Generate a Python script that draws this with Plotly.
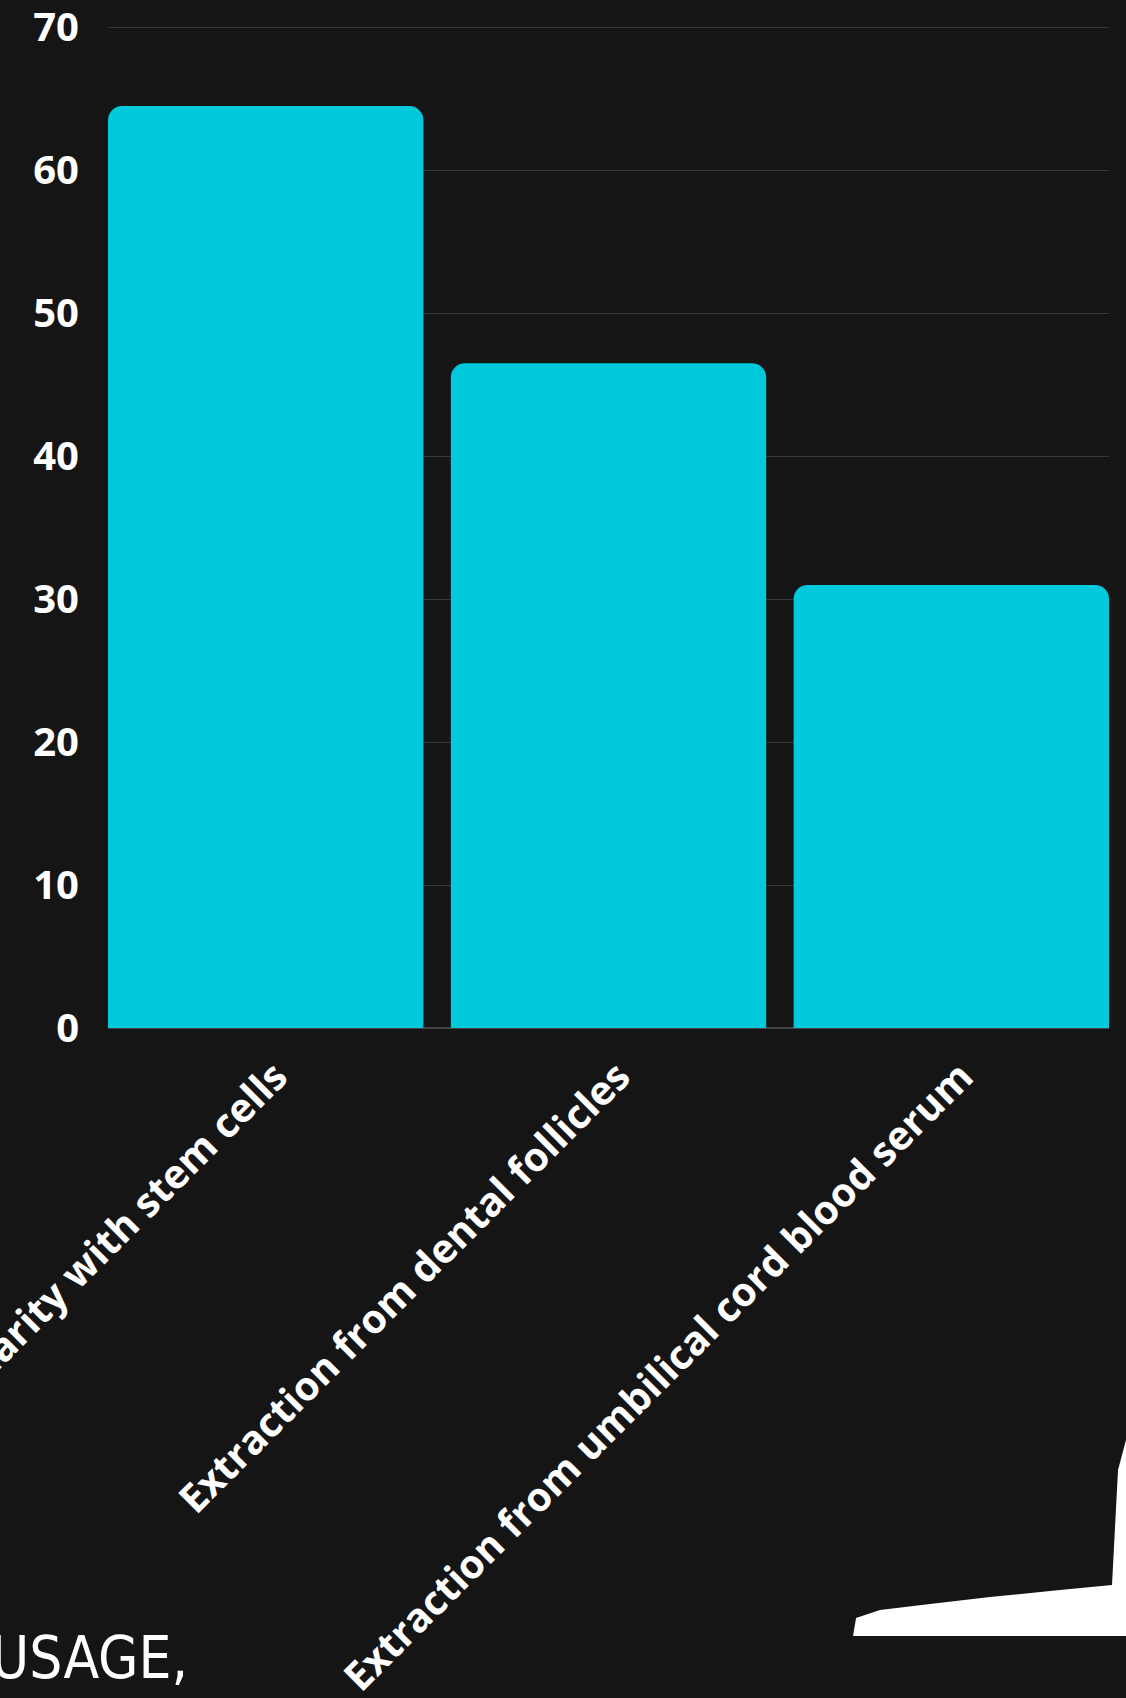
import plotly.graph_objects as go

categories = ["Similarity with stem cells",
              "Extraction from dental follicles",
              "Extraction from umbilical cord blood serum"]
values = [64.5, 46.5, 31]
y_ticks = [0, 10, 20, 30, 40, 50, 60, 70]

W, H = 1126, 1698
L, R, T, B = 108, 17, 26, 670
PW, PH = W - L - R, H - T - B


def px(x):
    return (x - L) / PW


def py(y):
    return (H - B - y) / PH


fig = go.Figure(go.Bar(
    x=categories, y=values,
    marker=dict(color="#00C9DB", cornerradius=14, line=dict(width=0)),
    hoverinfo="skip",
))

# white brush stroke decoration (bottom right)
pts = [(853, 1636), (1126, 1636), (1126, 1440), (1118, 1470), (1112, 1585),
       (1060, 1590), (990, 1597), (930, 1604), (880, 1610), (856, 1618)]
path = "M " + " L ".join(f"{px(a):.4f},{py(b):.4f}" for a, b in pts) + " Z"
fig.add_shape(type="path", path=path, xref="paper", yref="paper",
              fillcolor="white", line=dict(width=0), layer="above")

fig.add_annotation(text="USAGE,", xref="paper", yref="paper",
                   x=px(190), y=py(1658), xanchor="right", yanchor="middle",
                   showarrow=False,
                   font=dict(family="DejaVu Sans Condensed, DejaVu Sans", size=58,
                             color="white"))

tick_font = dict(family="Open Sans", size=40, color="white", weight="bold")

fig.update_layout(
    width=W, height=H,
    margin=dict(l=L, r=R, t=T, b=B, autoexpand=False),
    paper_bgcolor="#151515", plot_bgcolor="rgba(0,0,0,0)",
    bargap=0.08,
    showlegend=False,
    font=dict(family="Open Sans", color="white"),
    xaxis=dict(range=[-0.46, 2.46], tickangle=-45, automargin=False,
               tickfont=tick_font, ticklabelstandoff=16, ticklabelshift=10,
               showgrid=False, showline=False, ticks=""),
    yaxis=dict(range=[0, 70.1], tickvals=y_ticks, automargin=False,
               tickfont=tick_font, ticklabeloverflow="allow",
               showgrid=True, gridcolor="rgba(255,255,255,0.14)", gridwidth=1,
               zeroline=True, zerolinecolor="rgba(255,255,255,0.2)",
               ticks="", ticklabelstandoff=28, showline=False),
)

fig.write_html("out.html",
               config={"displayModeBar": False},
               post_script="document.body.style.margin='0';"
                           "document.body.style.background='#151515';")
